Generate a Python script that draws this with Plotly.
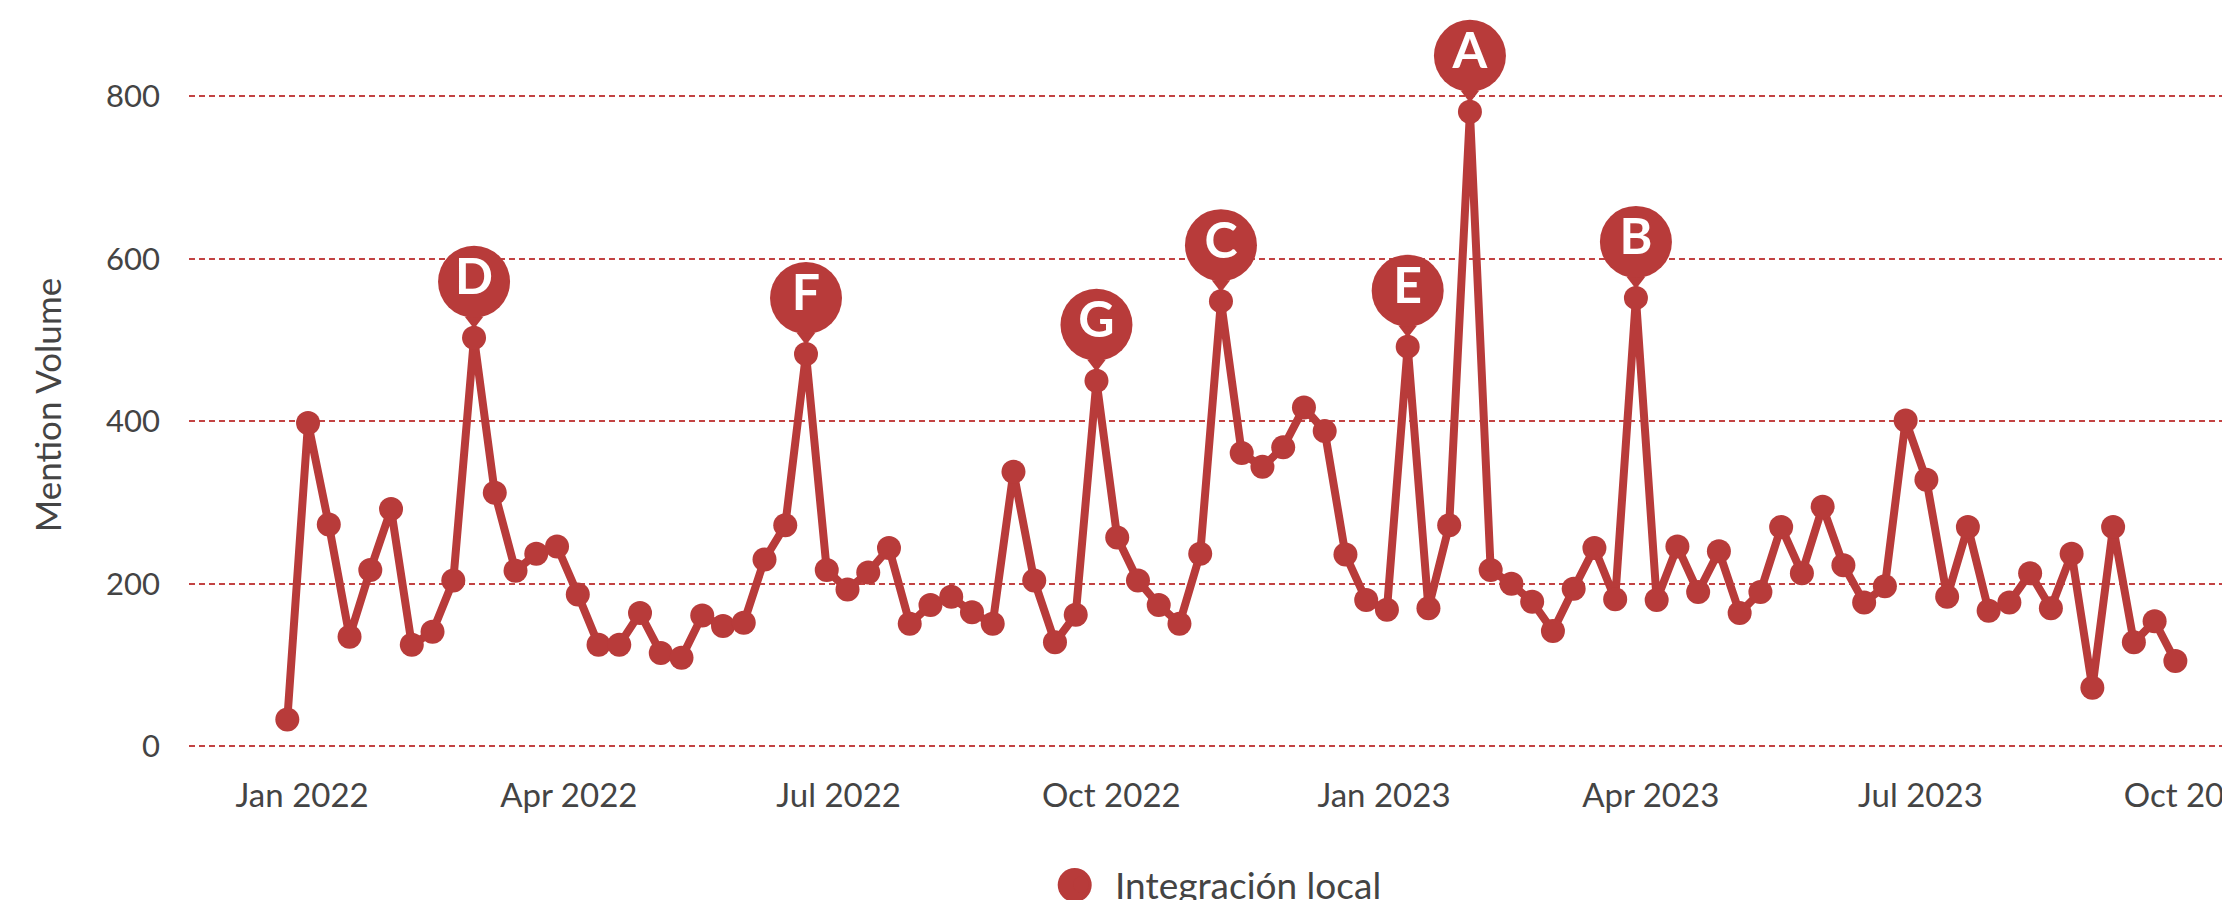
import pandas as pd
import plotly.graph_objects as go

# ---------------- data ----------------
first_week = "2021-12-27"
mentions = [
    33, 398, 273, 135, 217, 292, 125, 141, 204, 503,
    312, 216, 237, 246, 187, 125, 125, 164, 115, 109,
    161, 148, 152, 230, 272, 483, 217, 193, 214, 244,
    151, 174, 184, 165, 151, 338, 204, 128, 162, 450,
    257, 204, 174, 151, 237, 548, 361, 344, 368, 417,
    388, 236, 180, 168, 492, 170, 272, 781, 217, 200,
    178, 142, 194, 244, 181, 552, 180, 246, 190, 240,
    164, 190, 270, 213, 295, 223, 177, 197, 401, 328,
    184, 270, 167, 177, 213, 170, 237, 72, 270, 128,
    154, 105,
]
series_name = "Integración local"
callout_labels = ["D", "F", "G", "C", "E", "A", "B"]
callout_dates = ["2022-02-28", "2022-06-20", "2022-09-26", "2022-11-07",
                 "2023-01-09", "2023-01-30", "2023-03-27"]
y_ticks = [0, 200, 400, 600, 800]

weeks = pd.date_range(first_week, periods=len(mentions), freq="7D")
series = pd.Series(mentions, index=weeks)
callout_values = [series[pd.Timestamp(d)] for d in callout_dates]

# ---------------- style ----------------
RED = "#B83B3A"
GRID = "rgba(192,57,57,0.95)"
TEXT = "#444444"
FONT = "Century Gothic, Lato, sans-serif"

PAGE = 8                      # default body margin of the html page
W, H = 2230 - PAGE, 900 - PAGE
PLOT_L, PLOT_T, PLOT_B = 189, 31, 779   # plot area in window pixels
M_L, M_R = PLOT_L - PAGE, 0
M_T, M_B = PLOT_T - PAGE, 900 - PLOT_B
Y_RANGE = [-40.2, 880.5]
plot_h = PLOT_B - PLOT_T
plot_w = 2230 - PLOT_L
px_per_unit = plot_h / (Y_RANGE[1] - Y_RANGE[0])
bubble_off = 56 / px_per_unit
pointer_off = 17 / px_per_unit

x_left = pd.Timestamp("2021-11-23 20:00")
x_right = x_left + pd.Timedelta(days=688.6)

fig = go.Figure()
fig.add_trace(go.Scatter(
    x=weeks, y=mentions, mode="lines",
    line=dict(color=RED, width=8), showlegend=False, hoverinfo="skip"))
fig.add_trace(go.Scatter(
    x=weeks, y=mentions, mode="markers", name=series_name,
    marker=dict(color=RED, size=24)))
fig.add_trace(go.Scatter(
    x=callout_dates, y=[v + pointer_off for v in callout_values],
    mode="markers", marker=dict(symbol="triangle-down", size=16, color=RED),
    showlegend=False, hoverinfo="skip", cliponaxis=False))
fig.add_trace(go.Scatter(
    x=callout_dates, y=[v + bubble_off for v in callout_values],
    mode="markers+text", text=callout_labels, textposition="middle center",
    marker=dict(color=RED, size=72),
    textfont=dict(family="Lato", size=50, color="white", weight=700),
    showlegend=False, hoverinfo="skip", cliponaxis=False))

# enlarge legend symbol to match reference
leg_cx, leg_cy = 1074.7, 885
fig.add_shape(type="circle", xref="paper", yref="paper",
              xsizemode="pixel", ysizemode="pixel",
              xanchor=(leg_cx - PLOT_L) / plot_w,
              yanchor=(PLOT_B - leg_cy) / plot_h,
              x0=-17, x1=17, y0=-17, y1=17,
              fillcolor=RED, line=dict(width=0), layer="above")

fig.update_layout(
    width=W, height=H,
    margin=dict(l=M_L, r=M_R, t=M_T, b=M_B, autoexpand=False),
    paper_bgcolor="white", plot_bgcolor="white",
    font=dict(family=FONT, size=31, color=TEXT),
    showlegend=True,
    legend=dict(orientation="h", xref="container", yref="container",
                x=(1217 - PAGE) / W, xanchor="center",
                y=(900 - 885) / H, yanchor="middle",
                itemwidth=58,
                font=dict(family=FONT, size=37, color=TEXT),
                bgcolor="rgba(0,0,0,0)"),
    xaxis=dict(type="date", range=[x_left, x_right],
               tick0="2022-01-01", dtick="M3", tickformat="%b %Y",
               showgrid=False, zeroline=False, showline=False, ticks="",
               ticklabeloverflow="allow", ticklabelstandoff=-6,
               tickfont=dict(size=33, color=TEXT)),
    yaxis=dict(range=Y_RANGE, tickvals=y_ticks, showgrid=True,
               gridcolor=GRID, gridwidth=2, griddash="6px,4px",
               zeroline=False, showline=False, ticks="",
               ticklabelstandoff=28,
               tickfont=dict(size=31, color=TEXT),
               title=dict(text="Mention Volume", standoff=33,
                          font=dict(size=35, color=TEXT))),
)

fig.write_html("out.html")
